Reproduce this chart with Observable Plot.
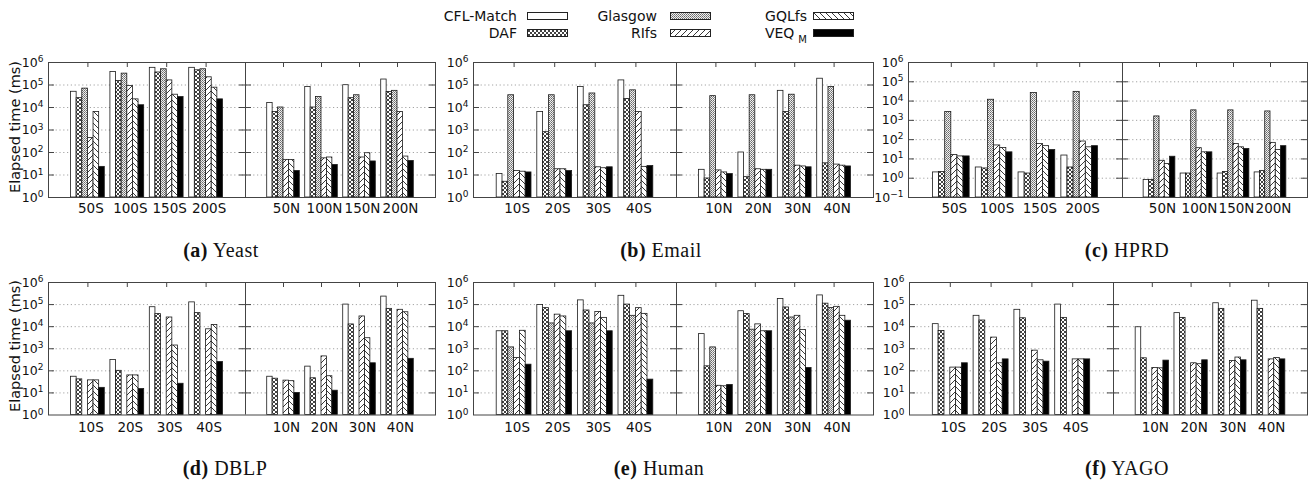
<!DOCTYPE html>
<html>
<head>
<meta charset="utf-8">
<script src="https://cdn.jsdelivr.net/npm/d3@7"></script>
<script src="https://cdn.jsdelivr.net/npm/@observablehq/plot@0.6"></script>
<style>
html,body{margin:0;padding:0;background:#fff;}
#root{position:relative;width:1316px;height:484px;overflow:hidden;font-family:"DejaVu Sans",sans-serif;color:#111;}
.panel{position:absolute;}
.cap{position:absolute;font-family:"Liberation Serif","Times New Roman",serif;font-size:20px;letter-spacing:0.5px;white-space:nowrap;transform:translate(-50%,-50%);}
.ylab{position:absolute;width:220px;height:20px;line-height:20px;text-align:center;font-size:14.5px;transform:translate(-50%,-50%) rotate(-90deg);white-space:nowrap;}
.leg{position:absolute;font-size:14px;white-space:nowrap;line-height:16px;}
.sw{position:absolute;}
</style>
</head>
<body>
<svg width="0" height="0" style="position:absolute;left:0;top:0">
<defs>
 <pattern id="p-daf" patternUnits="userSpaceOnUse" width="4" height="4">
  <rect width="4" height="4" fill="#fff"/>
  <path d="M0,0L4,4M4,0L0,4" stroke="#111" stroke-width="0.8"/>
 </pattern>
 <pattern id="p-glas" patternUnits="userSpaceOnUse" width="2" height="2">
  <rect width="2" height="2" fill="#f0f0f0"/>
  <rect width="1" height="1" fill="#6a6a6a"/>
  <rect x="1" y="1" width="1" height="1" fill="#8a8a8a"/>
 </pattern>
 <pattern id="p-rifs" patternUnits="userSpaceOnUse" width="6" height="6">
  <rect width="6" height="6" fill="#fff"/>
  <path d="M0,6L6,0M-1,1L1,-1M5,7L7,5" stroke="#222" stroke-width="0.9"/>
 </pattern>
 <pattern id="p-gql" patternUnits="userSpaceOnUse" width="6" height="6">
  <rect width="6" height="6" fill="#fff"/>
  <path d="M0,0L6,6M-1,5L1,7M5,-1L7,1" stroke="#222" stroke-width="0.9"/>
 </pattern>
</defs>
</svg>
<div id="root"></div>
<script>
// ---------------- DATA ----------------
const SERIES = ["CFL-Match", "DAF", "Glasgow", "RIfs", "GQLfs", "VEQ_M"];
const groupsAC = ["50S", "100S", "150S", "200S", "50N", "100N", "150N", "200N"];
const groupsSmall = ["10S", "20S", "30S", "40S", "10N", "20N", "30N", "40N"];

// rows: CFL-Match, DAF, Glasgow, RIfs, GQLfs, VEQ_M ; columns follow the group arrays
const yeast = [
  [50000, 380000, 580000, 580000, 16000, 82000, 98000, 175000],
  [26000, 150000, 360000, 450000, 6300, 10000, 26000, 49000],
  [69000, 320000, 500000, 500000, 10000, 29000, 35000, 55000],
  [440, 91000, 160000, 220000, 47, 55, 60, 6300],
  [6300, 23000, 37000, 76000, 46, 60, 93, 66],
  [23, 12600, 29000, 23000, 15, 28, 40, 42]
];
const email = [
  [11, 6300, 82000, 160000, 17, 100, 55000, 190000],
  [5, 800, 12600, 24000, 7, 8, 6300, 33],
  [35000, 35000, 42000, 58000, 32000, 35000, 37000, 82000],
  [15, 18, 22, 6300, 16, 18, 26, 29],
  [14, 18, 20, 23, 13, 17, 24, 26],
  [13, 15, 22, 25, 11, 17, 22, 24]
];
const hprd = [
  [2, 3.6, 2, 15, 0.8, 1.75, 1.75, 2],
  [2.1, 3.2, 1.75, 3.6, 0.8, 1.75, 2.1, 2.4],
  [2700, 11700, 26000, 30000, 1600, 3300, 3300, 2900],
  [16, 50, 60, 80, 8, 36, 60, 68],
  [13.5, 37, 46, 40, 5.4, 22, 40, 29],
  [13.5, 22, 29, 46, 13, 22, 33, 46]
];
const dblp = [
  [54, 310, 76000, 126000, 54, 155, 100000, 230000],
  [41, 100, 37000, 41000, 44, 46, 12600, 64000],
  [null, null, null, null, null, null, null, null],
  [37, 62, 26000, 7600, 36, 450, 29000, 58000],
  [37, 62, 1400, 12000, 34, 57, 3000, 45000],
  [17, 15, 26, 250, 10, 12.6, 220, 350]
];
const human = [
  [6200, 95000, 155000, 250000, 4600, 50000, 180000, 260000],
  [6200, 69000, 54000, 100000, 160, 37000, 74000, 110000],
  [1150, 14000, 14000, 31000, 1150, 7300, 26000, 70000],
  [380, 35000, 46000, 69000, 21, 12700, 31000, 79000],
  [6500, 29000, 25000, 38000, 20, 6200, 7100, 31000],
  [190, 6200, 6200, 40, 23, 6200, 135, 18600]
];
const yago = [
  [13000, 31000, 58000, 100000, 9400, 41000, 115000, 150000],
  [6400, 19000, 24000, 25000, 370, 25000, 64000, 64000],
  [null, null, null, null, null, null, null, null],
  [140, 3200, 820, 330, 135, 220, 280, 330],
  [140, 220, 300, 330, 130, 200, 400, 380],
  [220, 330, 260, 330, 290, 300, 300, 330]
];

// ---------------- STYLE / LAYOUT ----------------
const FILLS = ["#ffffff", "url(#p-daf)", "url(#p-glas)", "url(#p-rifs)", "url(#p-gql)", "#000000"];
const root = document.getElementById("root");

const panels = [
  {values: yeast, groups: groupsAC, yMin: 1, frame: [48, 245, 435, 62, 197], pad: 6, cap: ["(a)", "Yeast"], capXY: [221, 250], ylab: [15, 127]},
  {values: email, groups: groupsSmall, yMin: 1, frame: [473, 676, 873, 62, 197], pad: 6, cap: ["(b)", "Email"], capXY: [661, 250]},
  {values: hprd, groups: groupsAC, yMin: 0.1, frame: [908, 1122, 1307, 62, 197], pad: 6, cap: ["(c)", "HPRD"], capXY: [1127, 250]},
  {values: dblp, groups: groupsSmall, yMin: 1, frame: [48, 245, 435, 282, 414.5], pad: 7.5, cap: ["(d)", "DBLP"], capXY: [225, 468], ylab: [15, 346]},
  {values: human, groups: groupsSmall, yMin: 1, frame: [473, 676, 873, 282, 414.5], pad: 7.5, cap: ["(e)", "Human"], capXY: [659, 468]},
  {values: yago, groups: groupsSmall, yMin: 1, frame: [909, 1113, 1307, 282, 414.5], pad: 7.5, cap: ["(f)", "YAGO"], capXY: [1127, 468]}
];

const svgNS = "http://www.w3.org/2000/svg";
const pos = gi => Math.floor(gi / 4) * 5 + (gi % 4) + 1;

function buildPanel(p) {
  const [L, D, R, T, B] = p.frame;
  const mL = 50, mR = 4, mT = 4, mB = 30;
  const W = R - L, H = B - T;
  const rows = [];
  p.values.forEach((vals, si) => vals.forEach((v, gi) => { if (v != null) rows.push({si, gi, v}); }));
  const e0 = Math.round(Math.log10(p.yMin));
  const powers = d3.range(e0, 7).map(e => +("1e" + e));
  const inner = powers.slice(1, -1);
  const gpos = p.groups.map((g, gi) => pos(gi));

  const marks = [
    Plot.ruleY(inner, {y: d => d, stroke: "#9a9a9a", strokeDasharray: "1.2,2.6", strokeWidth: 0.9}),
    Plot.tickX(gpos, {x: d => d, insetTop: H - 5, stroke: "#444"}),
    ...SERIES.map((s, si) => Plot.rect(rows.filter(r => r.si === si), {
      x1: r => pos(r.gi) + (si - 3) / 7,
      x2: r => pos(r.gi) + (si - 2) / 7,
      y1: p.yMin, y2: "v",
      fill: FILLS[si], stroke: "#1a1a1a", strokeWidth: 0.8
    })),
    Plot.tickX(gpos, {x: d => d, insetBottom: H - 5, stroke: "#444"}),
    Plot.tickY(inner, {y: d => d, insetRight: W - 6, stroke: "#444"}),
    Plot.tickY(inner, {y: d => d, insetLeft: W - 6, stroke: "#444"}),
    Plot.tickY(inner, {y: d => d, insetLeft: (D - L) - 6, insetRight: (R - D) - 6, stroke: "#444"}),
    Plot.frame({stroke: "#444"}),
    Plot.ruleX([5], {stroke: "#444"}),
    Plot.axisX({ticks: gpos, tickFormat: d => p.groups[gpos.indexOf(d)], tickSize: 0, tickPadding: p.pad, fontSize: 13.5, dx: 3, label: null}),
    Plot.axisY({ticks: powers, tickFormat: d => "10^" + Math.round(Math.log10(d)), tickSize: 0, tickPadding: 5, fontSize: 12.5, label: null, anchor: "left"})
  ];

  const svg = Plot.plot({
    width: W + mL + mR, height: H + mT + mB,
    marginLeft: mL, marginRight: mR, marginTop: mT, marginBottom: mB,
    x: {type: "linear", domain: [0, 5, 10], range: [mL, mL + (D - L), mL + W]},
    y: {type: "log", domain: [p.yMin, 1e6]},
    style: {background: "transparent", overflow: "visible", fontFamily: "DejaVu Sans, sans-serif", maxWidth: "none", color: "#111"},
    marks
  });

  // superscripts on log tick labels
  d3.select(svg).selectAll('g[aria-label="y-axis tick label"] text').each(function () {
    const t = this.textContent;
    if (t.includes("^")) {
      const [b, e] = t.split("^");
      this.textContent = b;
      const ts = document.createElementNS(svgNS, "tspan");
      ts.setAttribute("dy", "-0.5em");
      ts.setAttribute("font-size", "9px");
      ts.textContent = e.replace("-", "\u2212");
      this.appendChild(ts);
    }
  });

  const div = document.createElement("div");
  div.className = "panel";
  div.style.left = (L - mL) + "px";
  div.style.top = (T - mT) + "px";
  div.style.width = (W + mL + mR) + "px";
  div.appendChild(svg);
  root.appendChild(div);

  const cap = document.createElement("div");
  cap.className = "cap";
  cap.style.left = p.capXY[0] + "px";
  cap.style.top = p.capXY[1] + "px";
  cap.innerHTML = "<b>" + p.cap[0] + "</b> " + p.cap[1];
  root.appendChild(cap);

  if (p.ylab) {
    const yl = document.createElement("div");
    yl.className = "ylab";
    yl.style.left = p.ylab[0] + "px";
    yl.style.top = p.ylab[1] + "px";
    yl.textContent = "Elapsed time (ms)";
    root.appendChild(yl);
  }
}
panels.forEach(buildPanel);

// ---------------- LEGEND ----------------
const legCol = [0, 0, 1, 1, 2, 2], legRow = [0, 1, 0, 1, 0, 1];
const colTextRight = [517, 657, 807], colSwatch = [527, 670, 813], rowY = [16, 33];
SERIES.forEach((s, si) => {
  const c = legCol[si], r = legRow[si];
  const t = document.createElement("div");
  t.className = "leg";
  t.style.right = (1316 - colTextRight[c]) + "px";
  t.style.top = (rowY[r] - 8) + "px";
  if (s === "VEQ_M") t.innerHTML = 'VEQ<span style="font-size:10px;position:relative;top:5px;margin-left:4px">M</span>';
  else t.textContent = s;
  root.appendChild(t);
  const sw = document.createElementNS(svgNS, "svg");
  sw.setAttribute("class", "sw");
  sw.setAttribute("width", 41); sw.setAttribute("height", 9);
  sw.style.left = colSwatch[c] + "px";
  sw.style.top = (rowY[r] - 4.5) + "px";
  const rc = document.createElementNS(svgNS, "rect");
  rc.setAttribute("x", 0.5); rc.setAttribute("y", 0.5);
  rc.setAttribute("width", 40); rc.setAttribute("height", 7);
  rc.setAttribute("fill", FILLS[si]); rc.setAttribute("stroke", "#222"); rc.setAttribute("stroke-width", 1);
  sw.appendChild(rc);
  root.appendChild(sw);
});
</script>
</body>
</html>
